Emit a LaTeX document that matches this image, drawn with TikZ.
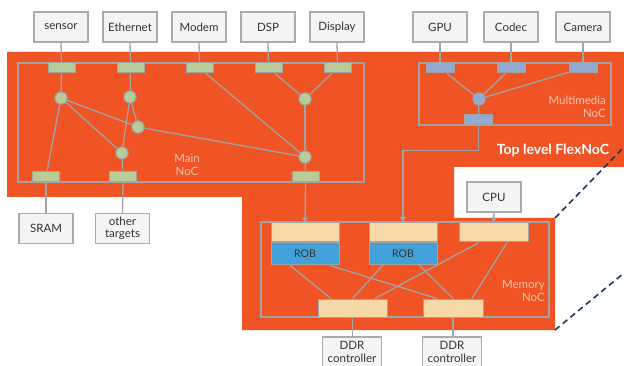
\documentclass[tikz,border=0pt]{standalone}
\usepackage{fontspec}
\setmainfont{Lato}
\usetikzlibrary{arrows.meta}
\definecolor{orng}{HTML}{F05324}
\definecolor{lgray}{HTML}{A3A3A3}
\definecolor{bfill}{HTML}{F3F4F6}
\definecolor{bdraw}{HTML}{ABABAB}
\definecolor{pgreen}{HTML}{B8CC98}
\definecolor{pblue}{HTML}{93AAD2}
\definecolor{ptan}{HTML}{F6D9A6}
\definecolor{rblue}{HTML}{42A1D9}
\definecolor{salmon}{HTML}{FCC3A8}
\definecolor{navy}{HTML}{1C3A5A}
\definecolor{txt}{HTML}{333333}
\tikzset{
  blk/.style={draw=bdraw, fill=bfill, line width=1.1pt, minimum width=54pt, minimum height=30pt, inner sep=0pt, font=\fontsize{11.5}{12.5}\selectfont, text=txt, align=center},
  gport/.style={draw=lgray, fill=pgreen, line width=1pt, minimum width=27pt, minimum height=10pt, inner sep=0pt},
  bport/.style={draw=lgray, fill=pblue, line width=1pt, minimum width=28pt, minimum height=10pt, inner sep=0pt},
  gdot/.style={circle, draw=lgray, fill=pgreen, line width=1pt, minimum size=12pt, inner sep=0pt},
  bdot/.style={circle, draw=lgray, fill=pblue, line width=1pt, minimum size=12pt, inner sep=0pt},
  tanbox/.style={draw=lgray, fill=ptan, line width=1pt, minimum height=19pt, inner sep=0pt},
  robbox/.style={draw=lgray, fill=rblue, line width=1pt, minimum height=22pt, minimum width=68pt, inner sep=0pt, font=\fontsize{10.5}{12}\selectfont, text=txt},
  noc/.style={draw=lgray, line width=1.3pt},
  wire/.style={draw=lgray, line width=1.3pt},
  arr/.style={wire, -{Triangle[width=6pt,length=5pt]}},
  lbl/.style={text=salmon, font=\fontsize{11.5}{13.5}\selectfont, inner sep=0pt},
  dsh/.style={draw=navy, line width=1.6pt, dash pattern=on 6pt off 4pt},
}
\begin{document}
\begin{tikzpicture}[x=1pt,y=-1pt]
\useasboundingbox (0,0) rectangle (624,366);
% orange background
\fill[orng] (7,52) -- (624,52) -- (624,167) -- (454,167) -- (454,218) -- (555,218) -- (555,330) -- (242,330) -- (242,197) -- (7,197) -- cycle;
% dashed zoom lines
\draw[dsh] (555,218) -- (624,147);
\draw[dsh] (555,330) -- (624,273);
% NoC frames
\draw[noc] (18,63) rectangle (364,182);
\draw[noc] (419,63) rectangle (611,125);
\draw[noc] (261,222) rectangle (549,317);
% top boxes
\node[blk] (sensor) at (61,27) {sensor};
\node[blk] (eth) at (130,27) {Ethernet};
\node[blk] (modem) at (199,27) {Modem};
\node[blk] (dsp) at (268,27) {DSP};
\node[blk] (disp) at (337,27) {Display};
\node[blk] (gpu) at (440,27) {GPU};
\node[blk] (codec) at (511,27) {Codec};
\node[blk] (cam) at (583,27) {Camera};
% bottom boxes
\node[blk] (sram) at (46,228.5) {SRAM};
\node[blk] (other) at (122.5,228.5) {other\\targets};
\node[blk, minimum width=59pt] (ddr1) at (352,352) {DDR\\controller};
\node[blk, minimum width=59pt] (ddr2) at (452,352) {DDR\\controller};
\node[blk] (cpu) at (494,197) {CPU};
% main NoC ports
\node[gport] (p1) at (61.5,68) {};
\node[gport] (p2) at (130.5,68) {};
\node[gport] (p3) at (199.5,68) {};
\node[gport] (p4) at (268.5,68) {};
\node[gport] (p5) at (337.5,68) {};
\node[gport] (q1) at (46,177) {};
\node[gport] (q2) at (123,177) {};
\node[gport] (q3) at (305.5,177) {};
% multimedia ports
\node[bport] (m1) at (440,68) {};
\node[bport] (m2) at (511,68) {};
\node[bport] (m3) at (583,68) {};
\node[bport] (mb) at (478.5,120) {};
% memory NoC blocks
\node[tanbox, minimum width=68pt] (r1t) at (305,232.5) {};
\node[robbox, anchor=north] (r1b) at (r1t.south) {ROB};
\node[tanbox, minimum width=68pt] (r2t) at (403,232) {};
\node[robbox, anchor=north] (r2b) at (r2t.south) {ROB};
\node[tanbox, minimum width=69pt] (ct) at (493.5,232.5) {};
\node[tanbox, minimum width=69pt, minimum height=18pt] (d1) at (352.5,308) {};
\node[tanbox, minimum width=60pt, minimum height=18pt] (d2) at (453,308) {};
% dots
\node[gdot] (a) at (61,98) {};
\node[gdot] (b) at (130,97) {};
\node[gdot] (c) at (138,127) {};
\node[gdot] (d) at (122,153) {};
\node[gdot] (e) at (305,99) {};
\node[gdot] (f) at (305,157) {};
\node[bdot] (m) at (479,99) {};
% wires: boxes to ports
\foreach \bx/\pt in {sensor/p1, eth/p2, modem/p3, dsp/p4, disp/p5, gpu/m1, codec/m2, cam/m3}
  \draw[wire] (\bx.south) -- (\pt.north);
\draw[wire] (q1.south) -- (sram.north);
\draw[wire] (q2.south) -- (other.north);
% main NoC internal
\draw[wire] (p1) -- (a);
\draw[wire] (a) -- (q1);
\draw[wire] (a) -- (c);
\draw[wire] (a) -- (d);
\draw[wire] (p2) -- (b);
\draw[wire] (b) -- (d);
\draw[wire] (b) -- (c);
\draw[wire] (c) -- (f);
\draw[wire] (p3) -- (f);
\draw[wire] (p4) -- (e);
\draw[wire] (p5) -- (e);
\draw[wire] (e) -- (f);
\draw[wire] (d) -- (q2);
\draw[wire] (f) -- (q3);
% multimedia internal
\draw[wire] (m1) -- (m);
\draw[wire] (m2) -- (m);
\draw[wire] (m3) -- (m);
\draw[wire] (m) -- (mb);
% arrows into memory NoC
\draw[arr] (q3.south) -- (r1t.north);
\draw[arr] (mb.south) -- ++(0,25) -| (r2t.north);
\draw[arr] (cpu.south) -- (ct.north);
% memory NoC internal
\draw[wire] ([xshift=-15pt]r1b.south) -- ([xshift=-21.5pt]d1.north);
\draw[wire] ([xshift=25pt]r1b.south) -- ([xshift=-16pt]d2.north);
\draw[wire] ([xshift=-20pt]r2b.south) -- ([xshift=0pt]d1.north);
\draw[wire] ([xshift=16pt]r2b.south) -- ([xshift=0pt]d2.north);
\draw[wire] ([xshift=-14.5pt]ct.south) -- ([xshift=22.5pt]d1.north);
\draw[wire] ([xshift=13.5pt]ct.south) -- ([xshift=19pt]d2.north);
\draw[wire] (d1.south) -- (d1.south |- ddr1.north);
\draw[wire] (d2.south) -- (d2.south |- ddr2.north);
% redraw nodes on top of wires
\foreach \n in {p1,p2,p3,p4,p5,q1,q2,q3}
  \node[gport] at (\n) {};
\foreach \n in {m1,m2,m3,mb}
  \node[bport] at (\n) {};
\foreach \n in {a,b,c,d,e,f}
  \node[gdot] at (\n) {};
\node[bdot] at (m) {};
% labels
\node[lbl, align=center] (lmain) at (187,165) {Main\\NoC};
\node[lbl, align=right, anchor=east] (lmm) at (606,107) {Multimedia\\NoC};
\node[lbl, align=right, anchor=east] (lmem) at (545,291) {Memory\\NoC};
\node[text=white, font=\bfseries\fontsize{14}{16}\selectfont, inner sep=0pt] (top) at (553,150) {Top level FlexNoC};
\end{tikzpicture}
\end{document}
